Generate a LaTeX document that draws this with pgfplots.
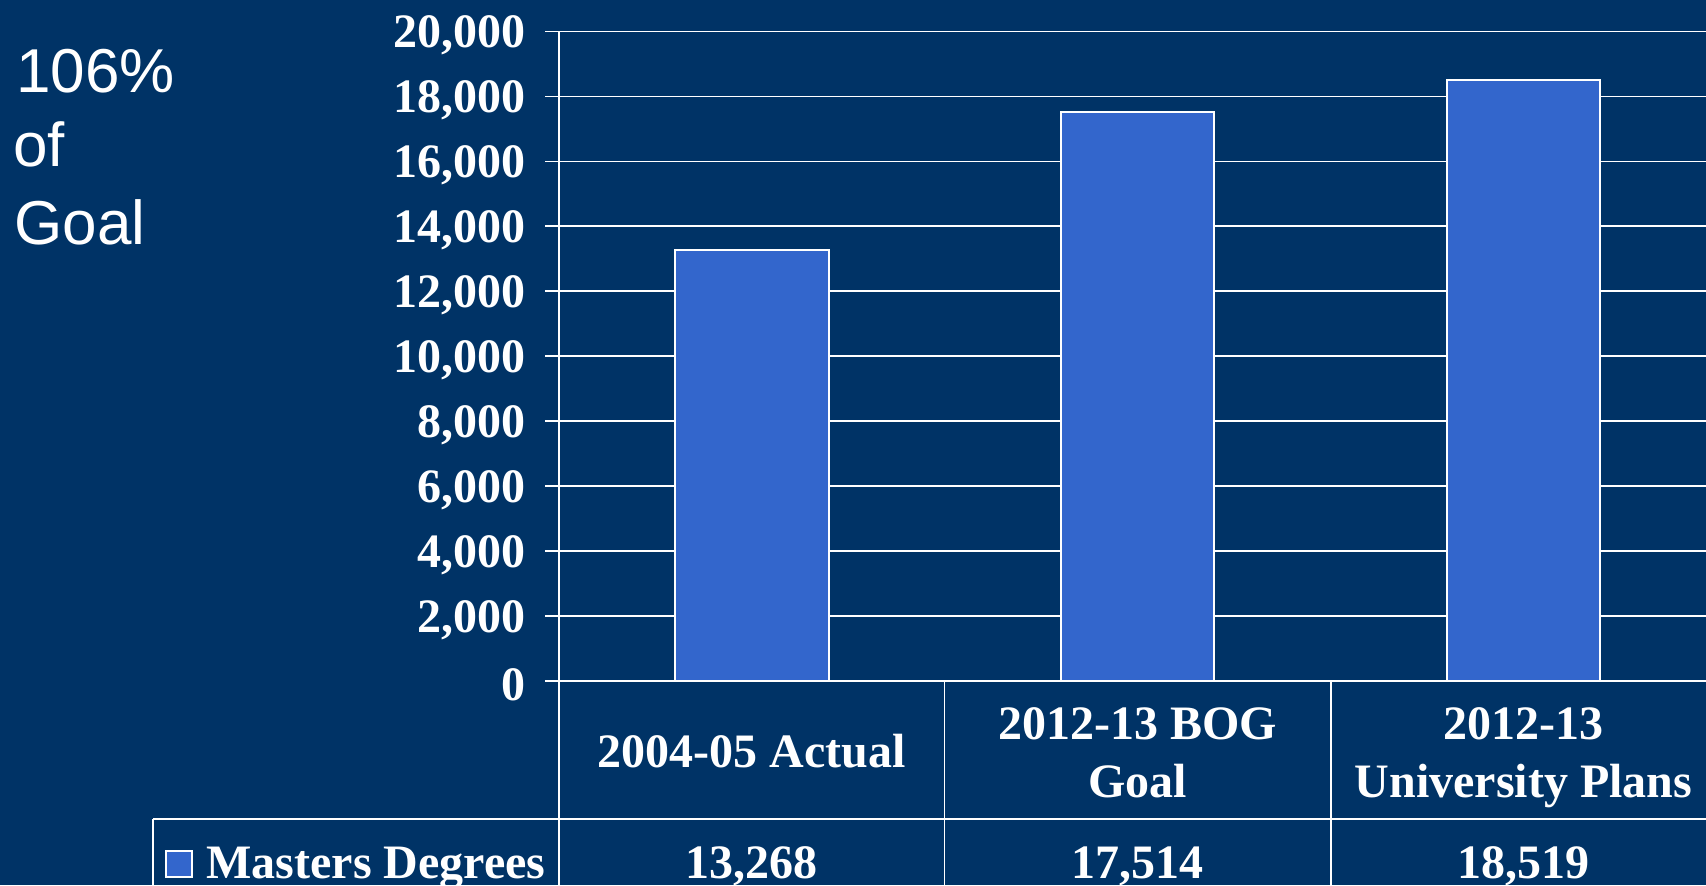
\documentclass[border=0pt]{standalone}
\usepackage{pgfplots}
\pgfplotsset{compat=1.18}
\usepackage{fontspec}
\setmainfont{Liberation Serif}
\newfontfamily\arial{Liberation Sans}
\definecolor{navy}{HTML}{003366}
\definecolor{barblue}{HTML}{3366CC}
\begin{document}
\begin{tikzpicture}[x=1pt,y=1pt]
\useasboundingbox (0,0) rectangle (853,442.5);
\clip (0,0) rectangle (853,442.5);
\fill[navy] (0,0) rectangle (853,442.5);
\begin{axis}[
  at={(279.6pt,102pt)}, anchor=south west,
  scale only axis, width=578.5pt, height=324.75pt,
  xmin=-0.5, xmax=2.5, ymin=0, ymax=20000,
  ybar, bar width=76.7pt,
  axis x line=bottom, axis y line=left,
  axis line style={-, white, line width=0.9pt},
  xtick=\empty,
  ytick={0,2000,...,20000},
  scaled y ticks=false,
  ymajorgrids, grid style={white, line width=0.9pt},
  tick align=outside, major tick length=7pt,
  y tick style={white, line width=0.9pt},
  yticklabel style={text=white, font=\bfseries\fontsize{24}{24}\selectfont, xshift=-6.5pt, yshift=-2pt},
  legend style={at={(-0.3407,-0.2818)}, anchor=west, draw=none, fill=none,
    text=white, font=\bfseries\fontsize{24}{24}\selectfont, inner sep=0pt,
    /tikz/every odd column/.append style={column sep=4.5pt}},
  legend image code/.code={\draw[#1] (0pt,-6.5pt) rectangle (13pt,6.5pt);},
  /pgf/number format/.cd, fixed, precision=0, 1000 sep={,}, assume math mode=true,
]
\addplot[fill=barblue, draw=white, line width=1pt] coordinates {(0,13268) (1,17514) (2,18519)};
\addlegendentry{Masters Degrees}
\end{axis}
% table lines
\begin{scope}[white, line width=0.9pt]
\draw (279.6,102) -- (279.6,0);
\draw (472.2,102) -- (472.2,0);
\draw (665.3,102) -- (665.3,0);
\draw (76.5,33) -- (853,33);
\draw (76.5,33) -- (76.5,0);
\end{scope}
\begin{scope}[every node/.style={text=white, font=\bfseries\fontsize{24}{29.5}\selectfont, anchor=base, inner sep=0pt}]
\node at (375.9,59) {2004-05 Actual};
\node at (568.75,73) {2012-13 BOG};
\node at (568.75,44) {Goal};
\node at (761.7,73) {2012-13};
\node at (761.7,44) {University Plans};
\node at (375.9,3.5) {13,268};
\node at (568.75,3.5) {17,514};
\node at (761.7,3.5) {18,519};
\end{scope}
\begin{scope}[every node/.style={text=white, font=\arial\fontsize{31}{38}\selectfont, anchor=base west, inner sep=0pt}]
\node at (8,396.25) {106\%};
\node at (6.5,359.25) {of};
\node at (7,320.25) {Goal};
\end{scope}
\end{tikzpicture}
\end{document}
